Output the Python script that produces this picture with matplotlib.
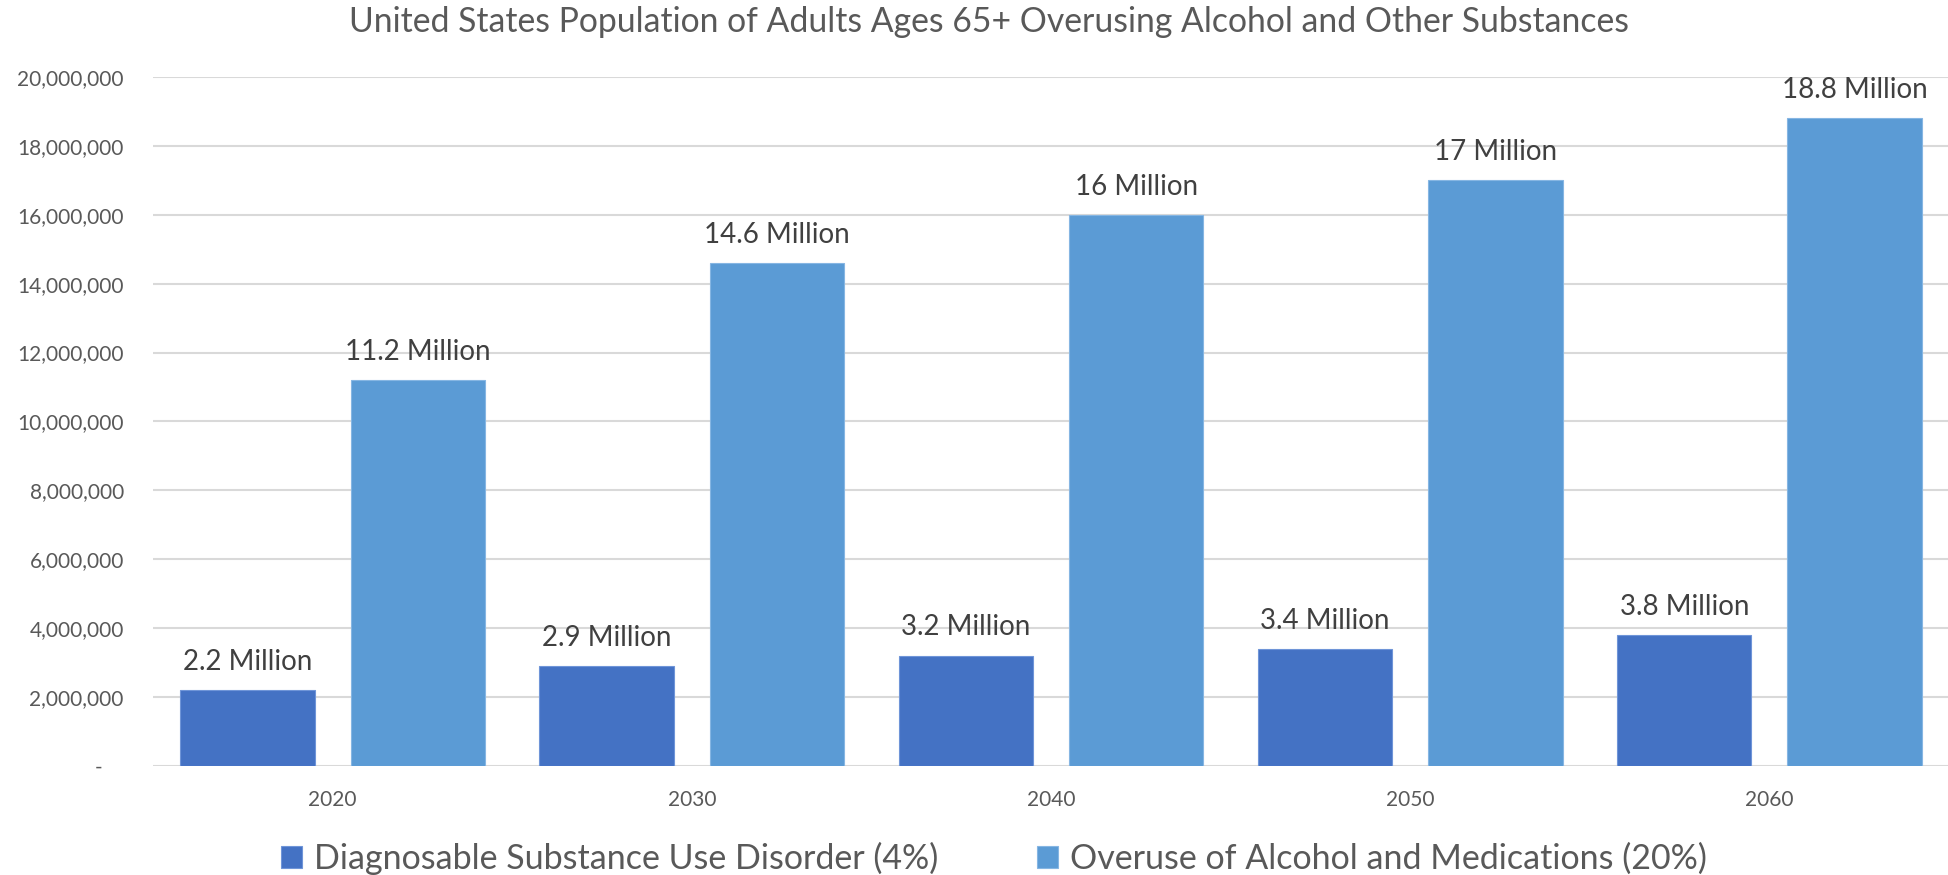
import numpy as np
import matplotlib.pyplot as plt
from matplotlib.ticker import FuncFormatter


years = ['2020', '2030', '2040', '2050', '2060']
disorder_millions = [2.2, 2.9, 3.2, 3.4, 3.8]
overuse_millions = [11.2, 14.6, 16, 17, 18.8]
series_names = ['Diagnosable Substance Use Disorder (4%)',
                'Overuse of Alcohol and Medications (20%)']
title = 'United States Population of Adults Ages 65+ Overusing Alcohol and Other Substances'


def thousands(v, pos):
    # accounting style: zero shows as a dash
    if v == 0:
        return '-    '
    return '{:,.0f}'.format(v)


if __name__ == "__main__":
    plt.rcParams['font.family'] = ['Lato', 'DejaVu Sans']

    fig = plt.figure(figsize=(19.49, 8.75), dpi=100)
    ax = fig.add_axes([0.0785, 0.1246, 0.9215, 0.7874])

    x = np.arange(len(years))
    width = 0.374
    offset = 0.237

    dark = np.array(disorder_millions) * 1e6
    light = np.array(overuse_millions) * 1e6

    bars1 = ax.bar(x - offset, dark, width, color='#4472C4', edgecolor='#6f95d8',
                   linewidth=0.8, label=series_names[0], zorder=3)
    bars2 = ax.bar(x + offset, light, width, color='#5B9BD5', edgecolor='#86b6e3',
                   linewidth=0.8, label=series_names[1], zorder=3)

    #value labels above every bar
    for bars, vals in ((bars1, disorder_millions), (bars2, overuse_millions)):
        for b, v in zip(bars, vals):
            ax.annotate('{:g} Million'.format(v),
                        (b.get_x() + b.get_width() / 2, b.get_height()),
                        xytext=(0, 11), textcoords='offset points',
                        ha='center', va='bottom', fontsize=20, color='#404040')

    #axes styling
    ax.set_xlim(-0.5, len(years) - 0.5)
    ax.set_ylim(0, 20e6)
    ax.set_yticks(np.arange(0, 20e6 + 1, 2e6))
    ax.yaxis.set_major_formatter(FuncFormatter(thousands))
    ax.set_xticks(x)
    ax.set_xticklabels(years)
    ax.grid(axis='y', color='#D9D9D9', linewidth=1.5, zorder=0)
    for s in ax.spines.values():
        s.set_visible(False)
    ax.tick_params(axis='y', length=0, pad=21, labelsize=15, labelcolor='#595959')
    ax.tick_params(axis='x', length=0, pad=17, labelsize=15, labelcolor='#595959')

    fig.suptitle(title, x=0.5075, y=0.975, va='center', fontsize=24.3, color='#595959')

    fig.legend(loc='center', bbox_to_anchor=(0.5098, 0.0194), ncol=2, frameon=False,
               fontsize=24.5, labelcolor='#595959', handlelength=0.62, handleheight=0.62,
               handletextpad=0.35, columnspacing=2.9, borderaxespad=0)

    fig.savefig('out.png', dpi=100)
